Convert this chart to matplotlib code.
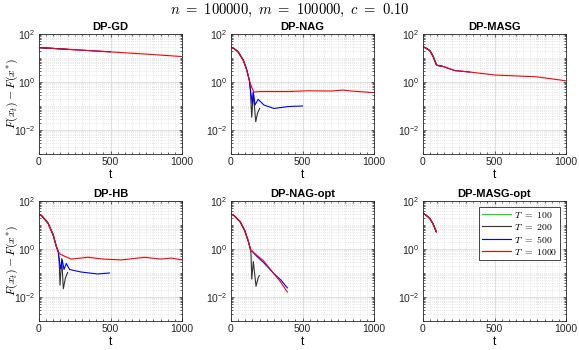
import matplotlib
matplotlib.use('Agg')
import matplotlib.pyplot as plt
from matplotlib.ticker import LogLocator, LogFormatterMathtext, NullFormatter, MultipleLocator

plt.rcParams['font.family'] = ['Liberation Sans', 'DejaVu Sans']
plt.rcParams['mathtext.fontset'] = 'cm'

# ---- data (t, F(x_t)-F(x*)) ----
gd_t = [0, 100, 200, 500, 750, 1000]
gd_f = [27, 25, 23, 18, 14.5, 11.5]

nag_head_t = [0, 20, 50, 85, 100, 110, 128]
nag_head_f = [28, 25, 18, 8.3, 4.8, 3.2, 1.2]
nag_red_t = [145, 160, 200, 300, 400, 540, 700, 783, 840, 1000]
nag_red_f = [0.60, 0.38, 0.40, 0.40, 0.40, 0.43, 0.42, 0.46, 0.42, 0.36]
nag_blue_t = [140, 148, 156, 168, 190, 230, 300, 400, 500]
nag_blue_f = [0.32, 0.126, 0.40, 0.11, 0.19, 0.11, 0.079, 0.095, 0.10]
nag_black_t = [135, 145, 156, 173, 185, 200]
nag_black_f = [0.5, 0.034, 0.34, 0.022, 0.05, 0.079]

masg_t = [0, 25, 49, 72, 95, 137, 222, 327, 501, 793, 1000]
masg_f = [29.5, 25, 20, 11.2, 5.0, 4.5, 3.0, 2.6, 1.95, 1.65, 1.12]

hb_head_t = [0, 20, 63, 98, 100, 121, 135]
hb_head_f = [27, 24, 12, 4.0, 3.7, 1.3, 0.76]
hb_red_t = [150, 179, 226, 343, 450, 576, 740, 850, 926, 1000]
hb_red_f = [0.60, 0.50, 0.38, 0.45, 0.38, 0.35, 0.45, 0.38, 0.42, 0.35]
hb_blue_t = [142, 151, 163, 175, 191, 214, 294, 410, 492]
hb_blue_f = [0.35, 0.15, 0.35, 0.14, 0.25, 0.14, 0.11, 0.091, 0.10]
hb_black_t = [140, 147, 159, 170, 185, 200]
hb_black_f = [0.40, 0.031, 0.40, 0.022, 0.063, 0.105]

nago_head_t = [0, 20, 63, 98, 100, 121, 137]
nago_head_f = [29, 25, 14, 5.5, 5.0, 2.1, 0.93]
nago_red_t = [180, 226, 296, 350, 394]
nago_red_f = [0.55, 0.33, 0.10, 0.04, 0.016]
nago_blue_t = [180, 226, 296, 350, 394]
nago_blue_f = [0.50, 0.28, 0.10, 0.05, 0.024]
nago_black_t = [140, 145, 156, 175, 190, 198]
nago_black_f = [0.63, 0.056, 0.30, 0.028, 0.063, 0.078]

masgo_t = [0, 20, 47, 70, 93]
masgo_f = [31, 26, 19, 11.2, 5.2]

titles = ['DP-GD', 'DP-NAG', 'DP-MASG', 'DP-HB', 'DP-NAG-opt', 'DP-MASG-opt']
T_labels = ['$T\\ =\\ 100$', '$T\\ =\\ 200$', '$T\\ =\\ 500$', '$T\\ =\\ 1000$']
T_vals = [100, 200, 500, 1000]
colors = ['#00ee00', '#333333', '#0000ff', '#ff0000']


def upto(t, f, T):
    k = [i for i, v in enumerate(t) if v <= T]
    return [t[i] for i in k], [f[i] for i in k]


def split_series(head_t, head_f, tails):
    # tails: dict T -> (t, f); green (T=100) follows the head only
    out = []
    for T in T_vals:
        ht, hf = upto(head_t, head_f, min(T, head_t[-1]))
        if T in tails:
            tt, tf = tails[T]
            out.append((ht + tt, hf + tf))
        else:
            out.append((ht, hf))
    return out


series = [
    [upto(gd_t, gd_f, T) for T in T_vals],
    split_series(nag_head_t, nag_head_f, {200: (nag_black_t, nag_black_f),
                                         500: (nag_blue_t, nag_blue_f),
                                         1000: (nag_red_t, nag_red_f)}),
    [upto(masg_t, masg_f, T) for T in T_vals],
    split_series(hb_head_t, hb_head_f, {200: (hb_black_t, hb_black_f),
                                       500: (hb_blue_t, hb_blue_f),
                                       1000: (hb_red_t, hb_red_f)}),
    split_series(nago_head_t, nago_head_f, {200: (nago_black_t, nago_black_f),
                                           500: (nago_blue_t, nago_blue_f),
                                           1000: (nago_red_t, nago_red_f)}),
    [(masgo_t, masgo_f) for T in T_vals],
]

fig = plt.figure(figsize=(5.79, 3.5), dpi=100)
W, H = 579.0, 350.0
lefts = [39, 231, 423]
tops = [34, 201]
aw, ah = 143, 120

for i in range(6):
    r, c = divmod(i, 3)
    ax = fig.add_axes([lefts[c] / W, 1 - (tops[r] + ah) / H, aw / W, ah / H])
    for (t, f), col, lab in zip(series[i], colors, T_labels):
        ax.plot(t, f, color=col, lw=0.8, label=lab)
    ax.set_yscale('log')
    ax.set_xlim(0, 1000)
    ax.set_ylim(1e-3, 1e2)
    ax.set_xticks([0, 500, 1000])
    ax.xaxis.set_minor_locator(MultipleLocator(50))
    ax.set_yticks([1e-2, 1e0, 1e2])
    ax.yaxis.set_major_formatter(LogFormatterMathtext())
    ax.yaxis.set_minor_locator(LogLocator(base=10, subs=range(1, 10), numticks=30))
    ax.yaxis.set_minor_formatter(NullFormatter())
    ax.grid(True, which='major', color='#dadada', lw=0.6)
    ax.grid(True, which='minor', color='#d2d2d2', lw=0.5, ls=(0, (1, 2)))
    ax.set_axisbelow(True)
    ax.tick_params(which='both', direction='in', top=True, right=True,
                   labelsize=7.5, colors='#262626', width=0.5, pad=2.5)
    ax.tick_params(which='major', length=2.5)
    ax.tick_params(which='minor', length=1.5)
    for s in ax.spines.values():
        s.set_color('#262626')
        s.set_linewidth(0.6)
    ax.set_title(titles[i], fontsize=8, fontweight='bold', pad=3)
    ax.set_xlabel('t', fontsize=8.5, labelpad=1)
    if c == 0:
        ax.set_ylabel('$F(x_t) - F(x^{*})$', fontsize=8.5)
        ax.yaxis.set_label_coords(-0.135, 0.5)
    if i == 5:
        leg = ax.legend(loc='upper right', fontsize=7, frameon=True, fancybox=False,
                        edgecolor='#262626', handlelength=3.0, handletextpad=0.3,
                        borderpad=0.3, labelspacing=0.2, borderaxespad=0.6,
                        framealpha=1)
        leg.get_frame().set_linewidth(0.6)

fig.text(0.5, 0.995, '$n\\ =\\ 100000,\\ m\\ =\\ 100000,\\ c\\ =\\ 0.10$', ha='center',
         va='top', fontsize=10.5)

fig.savefig('out.png', dpi=100)
